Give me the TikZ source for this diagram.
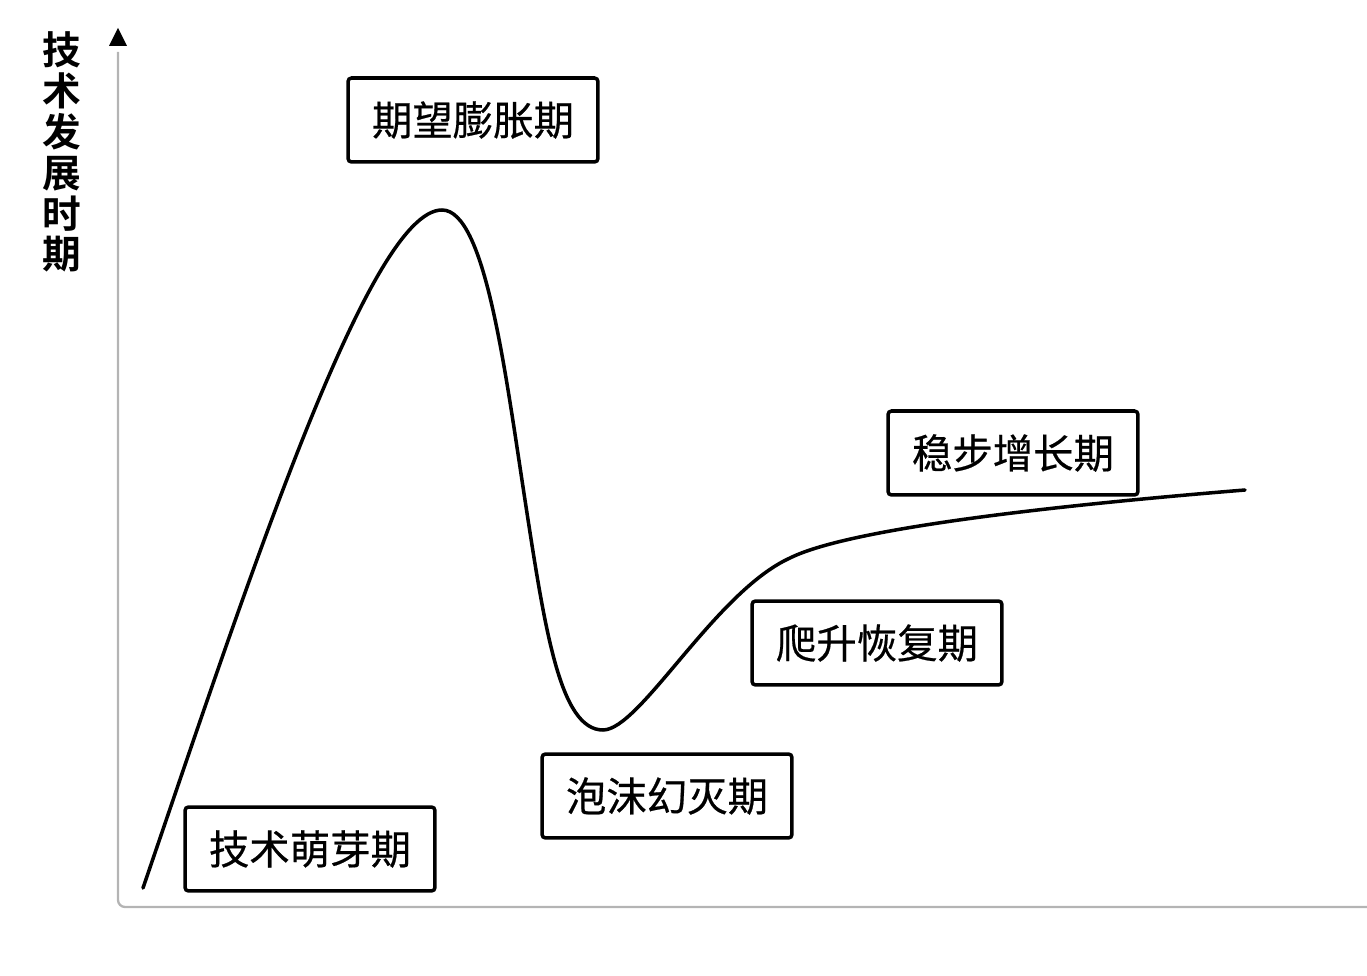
\documentclass[tikz,border=0pt]{standalone}
\usepackage{fontspec}
\usepackage{tikz}
\newfontfamily\cjk[FakeBold=0.5]{Noto Sans CJK SC}
\newfontfamily\cjkbold{Noto Sans CJK SC Bold}
\definecolor{axgray}{HTML}{B4B4B4}

\begin{document}
\begin{tikzpicture}[x=0.02cm, y=-0.02cm,
  phase/.style={draw=black, line width=2pt, rounded corners=2pt, fill=white,
                minimum width=5.0cm, minimum height=1.68cm, inner sep=0pt,
                font=\cjk\fontsize{23}{26}\selectfont},
  axis/.style={axgray, line width=1.3pt, rounded corners=4pt},
  hype/.style={black, line width=2pt, line cap=round, line join=round}
]
\useasboundingbox (0,0) rectangle (1367,976);
% axes
\coordinate (ytop) at (118,28);
\coordinate (ystart) at (118,52);
\coordinate (orig) at (118,907);
\coordinate (xend) at (1367,907);
\draw[axis] (ystart) -- (orig) -- (xend);
\fill[black] (ytop) -- ++(-9,18) -- ++(18,0) -- cycle;
\node[font=\cjkbold\fontsize{22}{23.3}\selectfont, align=center, inner sep=0pt]
  (ylab) at (62,152) {技\\术\\发\\展\\时\\期};
% curve
\coordinate (c0) at (143,888);
\coordinate (peak) at (442,210);
\coordinate (fall) at (525,500);
\coordinate (low) at (603,730);
\coordinate (climb) at (790,558);
\coordinate (c5) at (1245,490);
\draw[hype] (c0) .. controls (250,575) and (370,210) .. (peak)
  .. controls (485,210) and (505,370) .. (fall)
  .. controls (545,630) and (560,730) .. (low)
  .. controls (640,730) and (715,592) .. (climb)
  .. controls (840,533) and (1000,510) .. (c5);
% phases
\node[phase] (hoch) at (473,120) {期望膨胀期};
\node[phase] (plateau) at (1013,453) {稳步增长期};
\node[phase] (slope) at (877,643) {爬升恢复期};
\node[phase] (trough) at (667,796) {泡沫幻灭期};
\node[phase] (trigger) at (310,849) {技术萌芽期};
\end{tikzpicture}
\end{document}
